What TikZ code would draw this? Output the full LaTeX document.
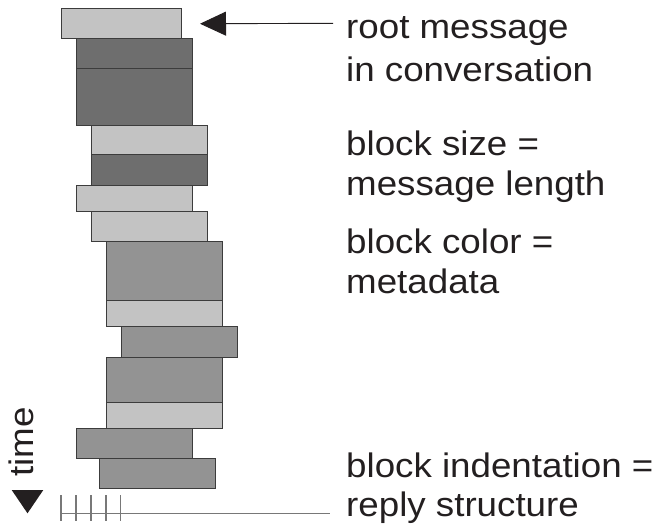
\documentclass[tikz,border=0pt]{standalone}
\usepackage{fontspec}
\setmainfont[FakeStretch=1.08]{Liberation Sans}
\usepackage{xcolor}
\definecolor{lightblock}{RGB}{195,195,195}
\definecolor{midblock}{RGB}{147,147,147}
\definecolor{darkblock}{RGB}{110,110,110}
\definecolor{blockline}{RGB}{60,60,60}
\definecolor{inkblack}{RGB}{35,31,32}
\definecolor{axisgray}{RGB}{120,120,120}
\usepackage{tikz}
\usetikzlibrary{arrows.meta}
\newcommand{\widthblock}{116pt}
\newcommand{\widthroot}{120pt}
\newcommand{\sizetext}{\fontsize{34}{40}\selectfont}
\tikzset{
    common/.style={anchor=north west, draw=blockline, line width=1pt, inner sep=0pt, minimum width=\widthblock},
    lightmsg/.style={common, fill=lightblock},
    midmsg/.style={common, fill=midblock},
    darkmsg/.style={common, fill=darkblock},
    caption/.style={anchor=base west, inner sep=0pt, text=inkblack, font=\sizetext},
    pointer/.style={draw=inkblack, line width=0.9pt, -{Triangle[length=26pt, width=24pt]}},
    axis/.style={draw=axisgray, line width=1.3pt}
}

\begin{document}
\begin{tikzpicture}[x=1pt, y=-1pt]
    \useasboundingbox (0,0) rectangle (652,530);

    \path (60.7,8.3) node[lightmsg, minimum width=\widthroot, minimum height=30pt] (msg1) {}
        ++(15.3,30) node[darkmsg, minimum height=30pt] (msg2) {}
        ++(0,30) node[darkmsg, minimum height=56.7pt] (msg3) {}
        ++(14.7,56.7) node[lightmsg, minimum height=29.3pt] (msg4) {}
        ++(0,29.3) node[darkmsg, minimum height=30.4pt] (msg5) {}
        ++(-14.7,30.4) node[lightmsg, minimum height=26pt] (msg6) {}
        ++(14.7,26) node[lightmsg, minimum height=30pt] (msg7) {}
        ++(15.3,30) node[midmsg, minimum height=59.6pt] (msg8) {}
        ++(0,59.6) node[lightmsg, minimum height=26pt] (msg9) {}
        ++(14.7,26) node[midmsg, minimum height=30.4pt] (msg10) {}
        ++(-14.7,30.4) node[midmsg, minimum height=45pt] (msg11) {}
        ++(0,45) node[lightmsg, minimum height=26pt] (msg12) {}
        ++(-30,26) node[midmsg, minimum height=30pt] (msg13) {}
        ++(22.7,30) node[midmsg, minimum height=30pt] (msg14) {};

    \node[caption] (root1) at (346,38.5) {root message};
    \node[caption] (root2) at (346,81.7) {in conversation};
    \node[caption] (size1) at (346,155) {block size =};
    \node[caption] (size2) at (346,195) {message length};
    \node[caption] (color1) at (346,253) {block color =};
    \node[caption] (color2) at (346,293) {metadata};
    \node[caption] (indent1) at (346,477.5) {block indentation =};
    \node[caption] (indent2) at (346,516.5) {reply structure};

    \coordinate (rootstart) at (333,23.3);
    \draw[pointer, shorten >=18.3pt] (rootstart) -- (msg1.east);

    % time goes down
    \node[caption, rotate=90] (time) at (33.3,476.7) {time};
    \fill[inkblack] (11.7,490) -- (43.3,490) -- (27.5,513.3) -- cycle;

    \coordinate (axisstart) at (61,513.3);
    \coordinate (axisend) at (330,513.3);
    \draw[axis] (axisstart) -- (axisend);
    \draw[axis] (61,495) -- (61,521) (76,495) -- (76,521) (91,495) -- (91,521)
        (106,495) -- (106,521) (120.7,495) -- (120.7,521);
\end{tikzpicture}
\end{document}
